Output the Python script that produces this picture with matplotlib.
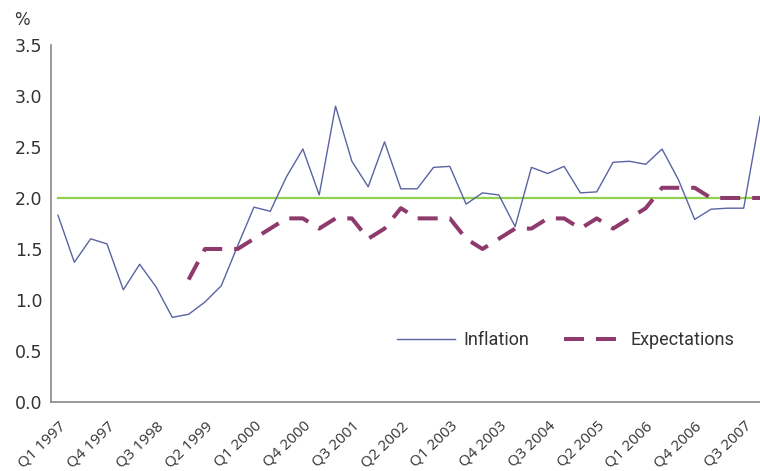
import numpy as np
import matplotlib
matplotlib.use('Agg')
import matplotlib.pyplot as plt

# Quarterly data, Q1 1997 - Q4 2007
inflation = [1.83, 1.37, 1.60, 1.55, 1.10, 1.35, 1.13, 0.83, 0.86, 0.98,
             1.14, 1.53, 1.91, 1.87, 2.21, 2.48, 2.03, 2.90, 2.36, 2.11,
             2.55, 2.09, 2.09, 2.30, 2.31, 1.94, 2.05, 2.03, 1.72, 2.30,
             2.24, 2.31, 2.05, 2.06, 2.35, 2.36, 2.33, 2.48, 2.18, 1.79,
             1.89, 1.90, 1.90, 2.80]
expectations = [None] * 8 + [1.2, 1.5, 1.5, 1.5, 1.6, 1.7, 1.8, 1.8, 1.7,
                             1.8, 1.8, 1.6, 1.7, 1.9, 1.8, 1.8, 1.8, 1.6,
                             1.5, 1.6, 1.7, 1.7, 1.8, 1.8, 1.7, 1.8, 1.7,
                             1.8, 1.9, 2.1, 2.1, 2.1, 2.0, 2.0, 2.0, 2.0]
target = [2.0] * len(inflation)
tick_labels = ['Q1 1997', 'Q4 1997', 'Q3 1998', 'Q2 1999', 'Q1 2000',
               'Q4 2000', 'Q3 2001', 'Q2 2002', 'Q1 2003', 'Q4 2003',
               'Q3 2004', 'Q2 2005', 'Q1 2006', 'Q4 2006', 'Q3 2007']

x = np.arange(len(inflation))
exp_vals = np.array([np.nan if v is None else v for v in expectations])

plt.rcParams['lines.scale_dashes'] = False

fig = plt.figure(figsize=(7.6, 4.71), dpi=100)
ax = fig.add_axes([0.0671, 0.1465, 0.9329, 0.758])

ax.plot(x, target, color='#92D050', lw=1.6)
ax.plot(x, inflation, color='#5A63A3', lw=1.0, label='Inflation')
ax.plot(x, exp_vals, color='#8E3A6C', lw=2.9, dashes=(14.4, 8.6),
        dash_capstyle='butt', label='Expectations')

ax.set_xlim(-0.43, 43)
ax.set_ylim(0, 3.5)
ax.set_yticks(np.arange(0, 3.51, 0.5))
ax.set_yticklabels(['{0:.1f}'.format(v) for v in np.arange(0, 3.51, 0.5)],
                   fontsize=12.5, color='#333333')
ax.set_xticks(np.arange(0, len(inflation), 3))
ax.set_xticklabels(tick_labels, fontsize=11, color='#333333',
                   family='Open Sans')
ax.tick_params(axis='y', length=0, pad=6)
ax.tick_params(axis='x', length=0, pad=12)
for lbl in ax.get_xticklabels():
    lbl.set_rotation(44)
    lbl.set_horizontalalignment('right')
    lbl.set_verticalalignment('top')
    lbl.set_rotation_mode('anchor')

for side in ['top', 'right']:
    ax.spines[side].set_visible(False)
for side in ['left', 'bottom']:
    ax.spines[side].set_color('#888888')
    ax.spines[side].set_linewidth(1.2)

ax.text(-0.041, 1.07, '%', transform=ax.transAxes, fontsize=12,
        color='#333333', ha='center', va='center')

ax.legend(loc='center left', bbox_to_anchor=(0.488, 0.174), ncol=2,
          frameon=False, handlelength=3.2, handletextpad=0.5,
          columnspacing=1.9, borderpad=0, borderaxespad=0,
          prop={'family': 'Roboto', 'size': 13}, labelcolor='#333333')

fig.savefig('out.png', dpi=100)
